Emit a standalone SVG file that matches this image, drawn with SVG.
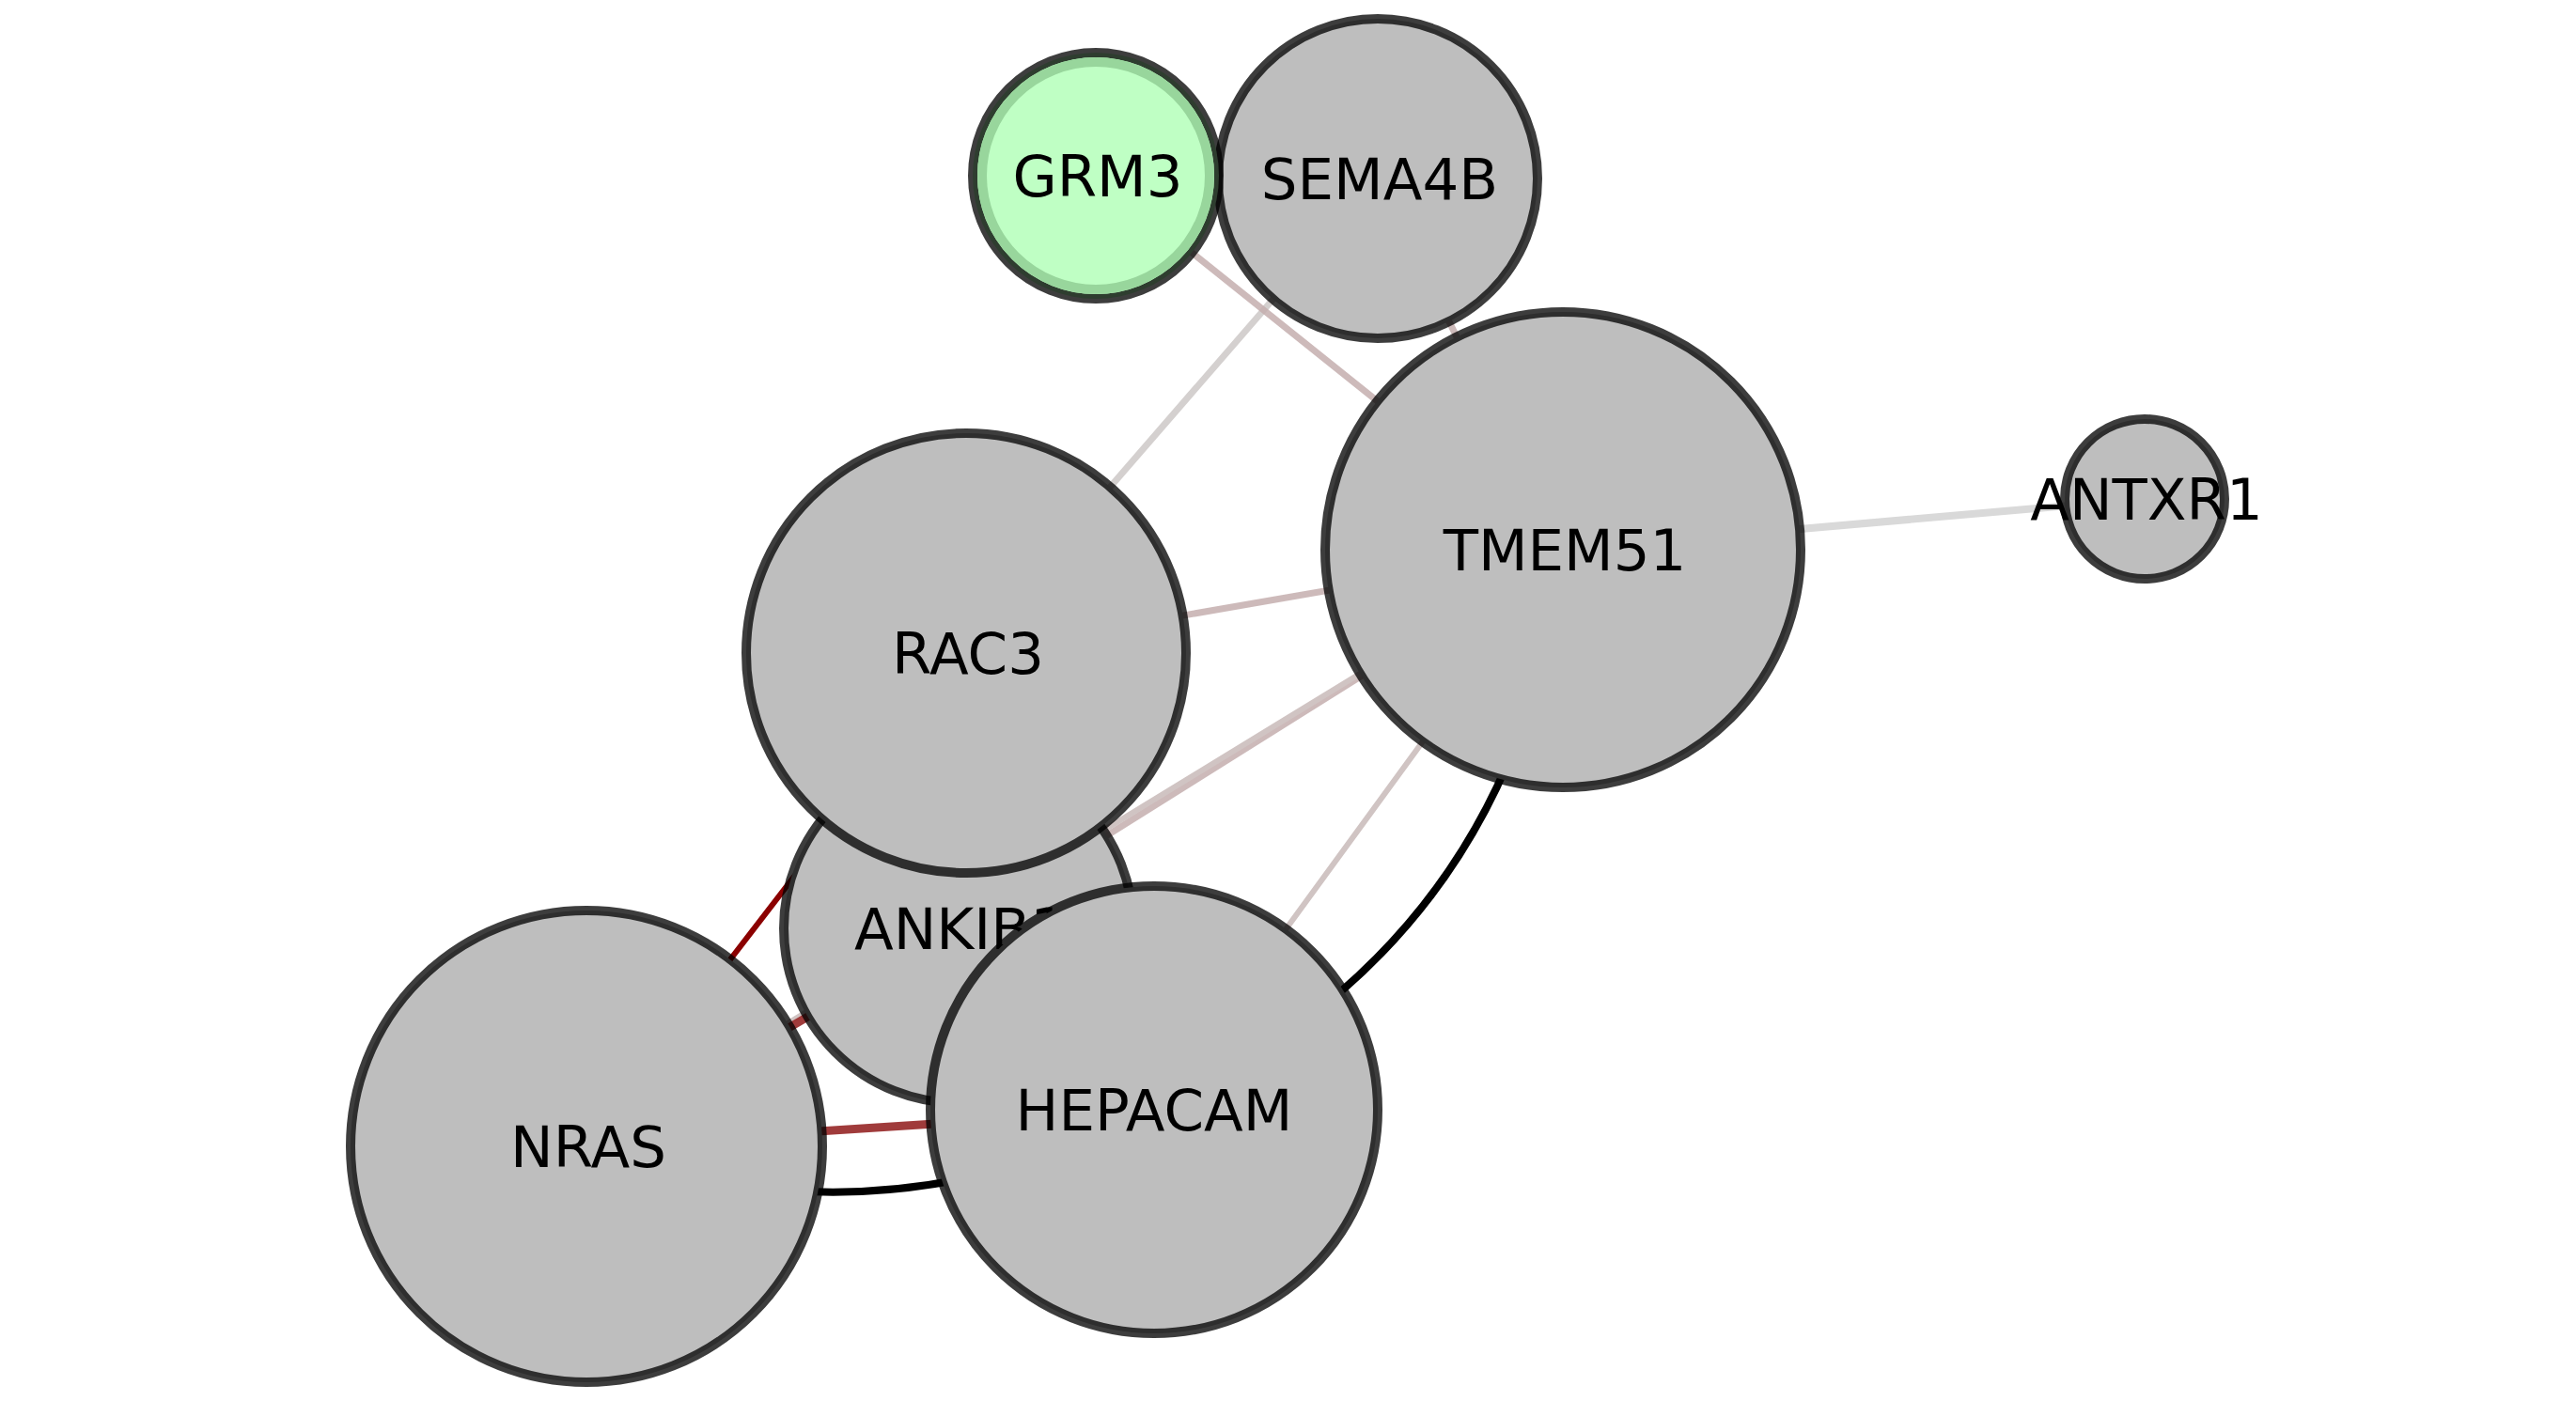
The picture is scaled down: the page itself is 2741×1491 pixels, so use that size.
<svg xmlns="http://www.w3.org/2000/svg" width="2741" height="1491" viewBox="0 0 2741 1491">
<style>
.node circle.body{fill:#bebebe;stroke:#000;stroke-opacity:0.76;stroke-width:10}
.node text{font-family:"DejaVu Sans","Liberation Sans",sans-serif;font-size:61px;fill:#000;text-anchor:middle}
.e{fill:none;stroke-linecap:round}
.rosy{stroke:#c4aeae;stroke-opacity:0.85;stroke-width:7}
.lg{stroke:#cfcbca;stroke-opacity:0.9;stroke-width:7}
.lg2{stroke:#d9d9d9;stroke-width:8}
.pale{stroke:#d0c4c3;stroke-width:6}
.blk{stroke:#000;stroke-width:8}
.dred{stroke:#8b0000;stroke-width:6}
.mred{stroke:#9b3030;stroke-opacity:0.95;stroke-width:9}
</style>
<rect width="2741" height="1491" fill="#fff"/>
<g id="connectors">
<line class="e lg" x1="1466" y1="190" x2="1028" y2="695"/>
<line class="e rosy" x1="1166" y1="187" x2="1663" y2="585"/>
<line class="e rosy" x1="1466" y1="190" x2="1663" y2="585"/>
<line class="e rosy" x1="1028" y1="695" x2="1663" y2="585"/>
<line class="e rosy" x1="1020" y1="988" x2="1663" y2="585"/>
<line class="e pale" x1="624" y1="1220" x2="1663" y2="585"/>
<line class="e pale" x1="1663" y1="585" x2="1228" y2="1181"/>
<path class="e blk" d="M1663,585 Q1614,1004 1228,1181"/>
<line class="e lg2" x1="1663" y1="585" x2="2282" y2="531"/>
<line class="e dred" x1="624" y1="1220" x2="1028" y2="695"/>
<line class="e mred" x1="624" y1="1220" x2="1020" y2="988"/>
<line class="e mred" x1="624" y1="1220" x2="1228" y2="1181"/>
<path class="e blk" d="M624,1220 Q935,1334 1228,1181"/>
</g>
<g id="node-ANKIB1" class="node"><circle class="body" cx="1020" cy="988" r="186"/><text x="1022" y="1010">ANKIB1</text></g>
<g id="node-RAC3" class="node"><circle class="body" cx="1028" cy="695" r="234"/><text x="1030" y="717">RAC3</text></g>
<g id="node-HEPACAM" class="node"><circle class="body" cx="1228" cy="1181" r="238"/><text x="1228" y="1203">HEPACAM</text></g>
<g id="node-NRAS" class="node"><circle class="body" cx="624" cy="1220" r="251"/><text x="626" y="1242">NRAS</text></g>
<g id="node-TMEM51" class="node"><circle class="body" cx="1663" cy="585" r="253"/><text x="1665" y="607">TMEM51</text></g>
<g id="node-ANTXR1" class="node"><circle class="body" cx="2282" cy="531" r="85"/><text x="2284" y="553">ANTXR1</text></g>
<g id="node-SEMA4B" class="node"><circle class="body" cx="1466" cy="190" r="170"/><text x="1468" y="212">SEMA4B</text></g>
<g id="node-GRM3" class="node"><circle class="body" cx="1166" cy="187" r="131" style="fill:#bfffc4"/><circle cx="1166" cy="187" r="121" fill="none" stroke="#98d69c" stroke-width="10"/><text x="1168" y="209">GRM3</text></g>
</svg>
